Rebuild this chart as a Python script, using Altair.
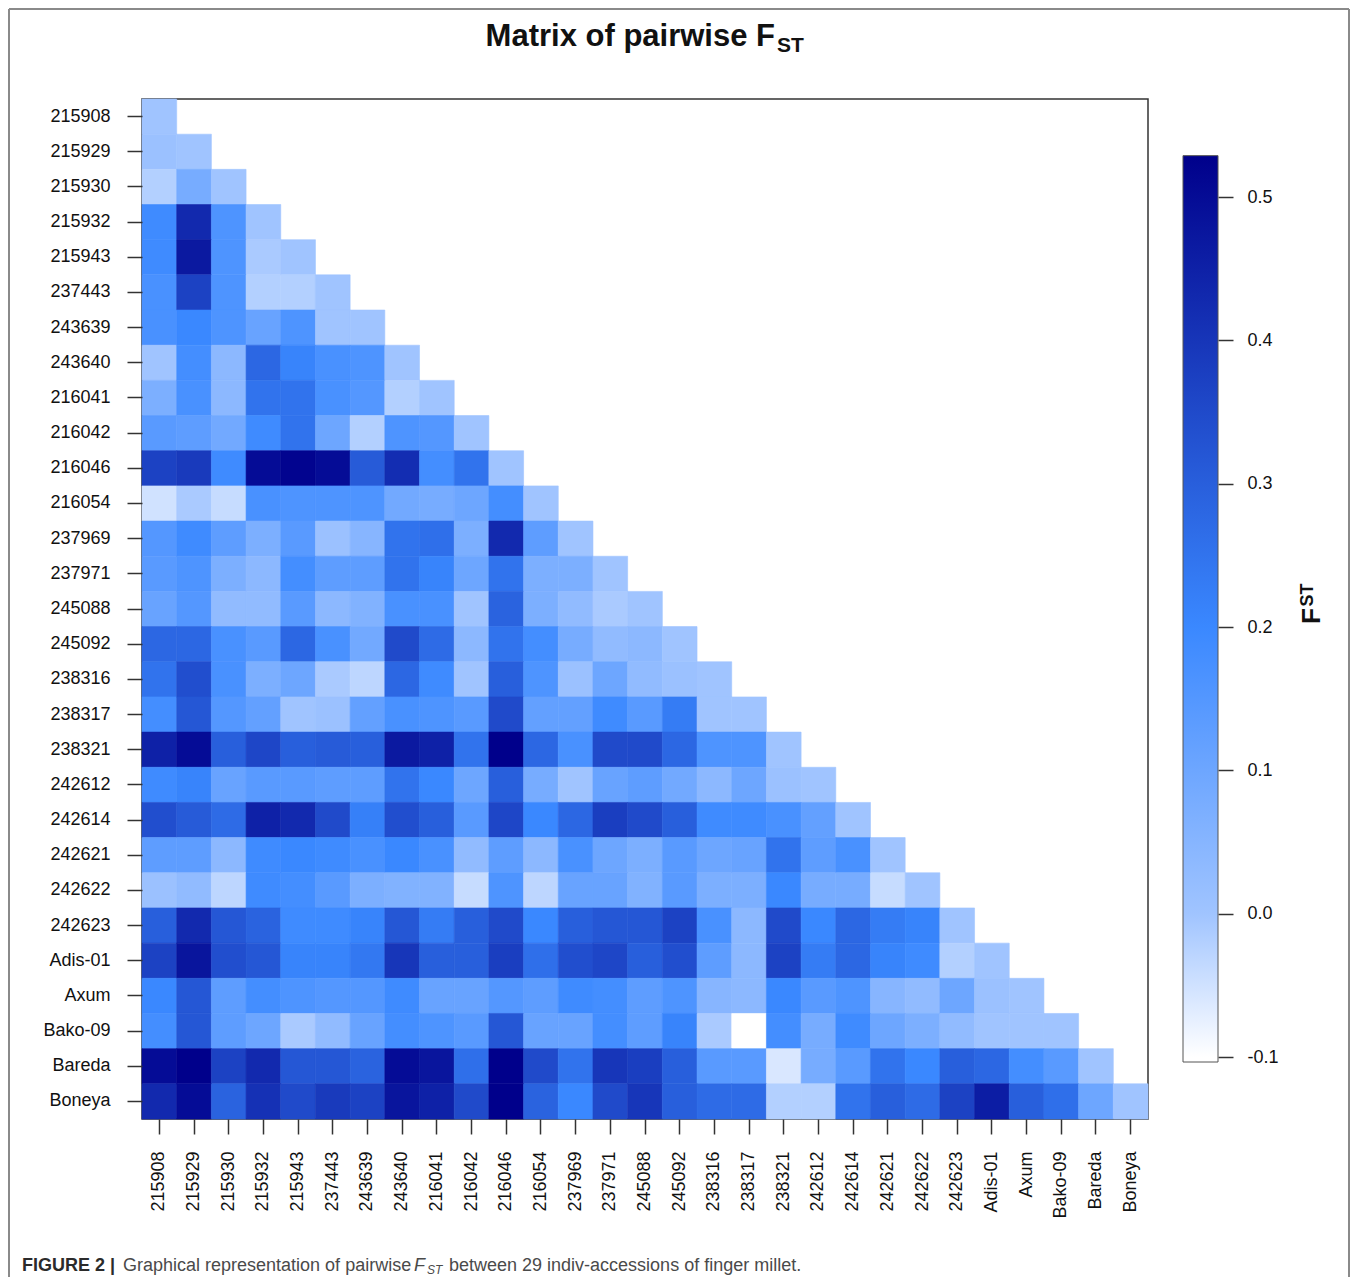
import altair as alt
import pandas as pd

labels = ["215908", "215929", "215930", "215932", "215943", "237443", "243639",
          "243640", "216041", "216042", "216046", "216054", "237969", "237971",
          "245088", "245092", "238316", "238317", "238321", "242612", "242614",
          "242621", "242622", "242623", "Adis-01", "Axum", "Bako-09", "Bareda", "Boneya"]

# lower-triangular pairwise FST (row i has i values, diagonal last)
r01 = [0.0]
r02 = [0.01, 0.0]
r03 = [-0.02, 0.08, 0.0]
r04 = [0.19, 0.43, 0.16, 0.0]
r05 = [0.19, 0.47, 0.16, -0.01, 0.0]
r06 = [0.17, 0.37, 0.16, -0.02, -0.02, 0.0]
r07 = [0.17, 0.20, 0.16, 0.11, 0.16, 0.0, 0.0]
r08 = [0.0, 0.18, 0.04, 0.28, 0.21, 0.17, 0.16, 0.0]
r09 = [0.07, 0.17, 0.04, 0.25, 0.25, 0.17, 0.15, -0.02, 0.0]
r10 = [0.14, 0.13, 0.09, 0.19, 0.25, 0.10, -0.02, 0.16, 0.15, 0.0]
r11 = [0.37, 0.39, 0.19, 0.50, 0.52, 0.50, 0.31, 0.42, 0.18, 0.25, 0.0]
r12 = [-0.05, -0.01, -0.04, 0.17, 0.16, 0.16, 0.16, 0.09, 0.08, 0.10, 0.18, 0.0]
r13 = [0.15, 0.19, 0.13, 0.07, 0.14, 0.01, 0.05, 0.25, 0.26, 0.07, 0.43, 0.13, 0.0]
r14 = [0.14, 0.16, 0.07, 0.04, 0.18, 0.13, 0.13, 0.25, 0.21, 0.10, 0.25, 0.07, 0.07, 0.0]
r15 = [0.11, 0.15, 0.03, 0.03, 0.14, 0.04, 0.06, 0.17, 0.17, 0.0, 0.29, 0.07, 0.03, -0.01, 0.0]
r16 = [0.28, 0.28, 0.17, 0.14, 0.28, 0.17, 0.09, 0.35, 0.27, 0.04, 0.25, 0.18, 0.08, 0.03, 0.04, 0.0]
r17 = [0.25, 0.34, 0.17, 0.07, 0.10, -0.01, -0.03, 0.28, 0.19, 0.0, 0.30, 0.16, 0.01, 0.10, 0.03,
       0.01, 0.0]
r18 = [0.18, 0.32, 0.15, 0.12, 0.0, 0.01, 0.12, 0.17, 0.16, 0.14, 0.35, 0.12, 0.12, 0.19, 0.14,
       0.23, 0.0, 0.0]
r19 = [0.45, 0.50, 0.30, 0.36, 0.30, 0.31, 0.30, 0.47, 0.45, 0.25, 0.53, 0.28, 0.17, 0.35, 0.35,
       0.28, 0.16, 0.16, 0.0]
r20 = [0.19, 0.21, 0.11, 0.14, 0.14, 0.13, 0.13, 0.25, 0.20, 0.10, 0.30, 0.08, 0.0, 0.11, 0.13,
       0.09, 0.04, 0.10, 0.01, 0.0]
r21 = [0.34, 0.31, 0.27, 0.45, 0.43, 0.35, 0.22, 0.34, 0.30, 0.14, 0.36, 0.20, 0.28, 0.38, 0.35,
       0.30, 0.19, 0.19, 0.17, 0.12, 0.0]
r22 = [0.13, 0.13, 0.04, 0.19, 0.20, 0.19, 0.17, 0.20, 0.17, 0.03, 0.13, 0.04, 0.17, 0.10, 0.07,
       0.14, 0.10, 0.11, 0.25, 0.13, 0.17, 0.0]
r23 = [0.01, 0.03, -0.03, 0.19, 0.18, 0.14, 0.07, 0.06, 0.06, -0.04, 0.16, -0.03, 0.11, 0.11, 0.06,
       0.14, 0.07, 0.07, 0.20, 0.08, 0.08, -0.04, 0.0]
r24 = [0.30, 0.43, 0.32, 0.29, 0.19, 0.19, 0.21, 0.32, 0.23, 0.30, 0.35, 0.20, 0.30, 0.32, 0.32,
       0.37, 0.17, 0.04, 0.35, 0.20, 0.28, 0.23, 0.21, 0.0]
r25 = [0.37, 0.48, 0.34, 0.32, 0.21, 0.21, 0.24, 0.40, 0.30, 0.30, 0.38, 0.26, 0.34, 0.36, 0.30,
       0.34, 0.13, 0.04, 0.37, 0.23, 0.28, 0.21, 0.19, -0.02, 0.0]
r26 = [0.20, 0.32, 0.13, 0.18, 0.16, 0.15, 0.15, 0.19, 0.11, 0.11, 0.15, 0.13, 0.19, 0.18, 0.13,
       0.16, 0.05, 0.04, 0.20, 0.14, 0.16, 0.05, 0.03, 0.10, 0.01, 0.0]
r27 = [0.18, 0.32, 0.13, 0.10, -0.01, 0.03, 0.11, 0.18, 0.16, 0.14, 0.32, 0.11, 0.11, 0.18, 0.13,
       0.21, -0.01, -0.10, 0.18, 0.08, 0.19, 0.10, 0.07, 0.03, 0.0, 0.0, 0.0]
r28 = [0.50, 0.53, 0.37, 0.43, 0.32, 0.32, 0.29, 0.50, 0.48, 0.26, 0.53, 0.35, 0.25, 0.40, 0.38,
       0.30, 0.14, 0.14, -0.06, 0.08, 0.14, 0.25, 0.20, 0.30, 0.28, 0.18, 0.14, 0.0]
r29 = [0.43, 0.50, 0.29, 0.41, 0.35, 0.39, 0.37, 0.48, 0.45, 0.35, 0.53, 0.29, 0.20, 0.35, 0.40,
       0.30, 0.27, 0.27, -0.02, -0.02, 0.25, 0.30, 0.27, 0.37, 0.46, 0.30, 0.26, 0.10, 0.0]

rows = [r01, r02, r03, r04, r05, r06, r07, r08, r09, r10, r11, r12, r13, r14, r15,
        r16, r17, r18, r19, r20, r21, r22, r23, r24, r25, r26, r27, r28, r29]

# colour bar (legend) range and tick values
cb_lo, cb_hi = -0.1035, 0.529
cb_ticks = [-0.1, 0.0, 0.1, 0.2, 0.3, 0.4, 0.5]
stop_vals = [-0.1, 0.0, 0.2, 0.53]
stop_cols = ["#ffffff", "#a0c4ff", "#3a88ff", "#00008b"]

recs = []
for i, row in enumerate(rows):
    for j, v in enumerate(row):
        recs.append({"row": labels[i], "col": labels[j], "fst": v})
df = pd.DataFrame(recs)

W, H = 1006, 1020
FONT = "Liberation Sans"

cscale = alt.Scale(domain=stop_vals, range=stop_cols, interpolate="rgb")

heat = alt.Chart(df).mark_rect(strokeWidth=0.6).encode(
    x=alt.X("col:N", sort=labels, scale=alt.Scale(paddingInner=0, paddingOuter=0),
            axis=alt.Axis(title=None, labelAngle=270, labelPadding=17, tickSize=15,
                          domain=False, grid=False, labelFontSize=18)),
    y=alt.Y("row:N", sort=labels, scale=alt.Scale(paddingInner=0, paddingOuter=0),
            axis=alt.Axis(title=None, labelPadding=17, tickSize=15, domain=False,
                          grid=False, labelFontSize=18)),
    color=alt.Color("fst:Q", scale=cscale, legend=None),
    stroke=alt.Stroke("fst:Q", scale=cscale, legend=None),
)

span = cb_hi - cb_lo
grad = alt.LinearGradient(
    gradient="linear",
    stops=[alt.GradientStop(offset=max(0.0, min(1.0, (v - cb_lo) / span)), color=c)
           for v, c in zip(stop_vals, stop_cols)],
    x1=0, x2=0, y1=1, y2=0,
)
px_per_unit = 1433.0
ydom_lo = -0.1 - 62 / px_per_unit
ydom_hi = ydom_lo + H / px_per_unit

cbar = alt.Chart(pd.DataFrame({"lo": [cb_lo], "hi": [cb_hi]})).mark_rect(
    color=grad, stroke="#555555", strokeWidth=1
).encode(
    x=alt.value(1041), x2=alt.value(1076),
    y=alt.Y("lo:Q", scale=alt.Scale(domain=[ydom_lo, ydom_hi], nice=False, zero=False),
            axis=alt.Axis(orient="right", offset=70, values=cb_ticks, title=None,
                          tickSize=15, labelPadding=14, domain=False, grid=False,
                          labelFontSize=18,
                          labelExpr="replace(format(datum.value, '.1f'), '\u2212', '-')")),
    y2="hi:Q",
)

one = pd.DataFrame({"a": [0]})


def txt(s, x, y, size, weight="normal", style="normal", color="#111111",
        align="left", angle=0, baseline="alphabetic"):
    return alt.Chart(one).mark_text(
        text=s, font=FONT, fontSize=size, fontWeight=weight, fontStyle=style,
        color=color, align=align, angle=angle, baseline=baseline
    ).encode(x=alt.value(x), y=alt.value(y))


def rule(x1, x2, y1, y2):
    return alt.Chart(one).mark_rule(color="#8a8a8a", strokeWidth=2).encode(
        x=alt.value(x1), x2=alt.value(x2), y=alt.value(y1), y2=alt.value(y2))


texts = [
    txt("Matrix of pairwise F", 633, -53, 31, weight="bold", align="right"),
    txt("ST", 635, -47, 21, weight="bold"),
    txt("F", 1170, 517, 26, weight="bold", align="center", angle=270, baseline="middle"),
    txt("ST", 1166, 496, 18, weight="bold", align="center", angle=270, baseline="middle"),
    txt("FIGURE 2 |", -120, 1172, 18, weight="bold", color="#2b2b2b"),
    txt("Graphical representation of pairwise", -19, 1172, 18, color="#4a4a4a"),
    txt("F", 272, 1172, 18, style="italic", color="#4a4a4a"),
    txt("ST", 285, 1175, 12, style="italic", color="#4a4a4a"),
    txt("between 29 indiv-accessions of finger millet.", 307, 1172, 18, color="#4a4a4a"),
]

frame = [
    rule(-133, -133, -90, 1200),
    rule(-133, 1207, -90, -90),
    rule(1207, 1207, -90, 1200),
]

chart = alt.layer(heat, cbar, *texts, *frame).resolve_scale(
    y="independent"
).resolve_axis(
    y="independent"
).properties(
    width=W, height=H, autosize="none",
    padding={"left": 134, "top": 91, "right": 202, "bottom": 158},
).configure_view(
    stroke="#333333", strokeWidth=1.5
).configure_axis(
    labelFont=FONT, labelColor="#111111", tickColor="#333333", tickWidth=1.5
)

chart.save("out.html", embed_options={"renderer": "svg", "actions": False})
